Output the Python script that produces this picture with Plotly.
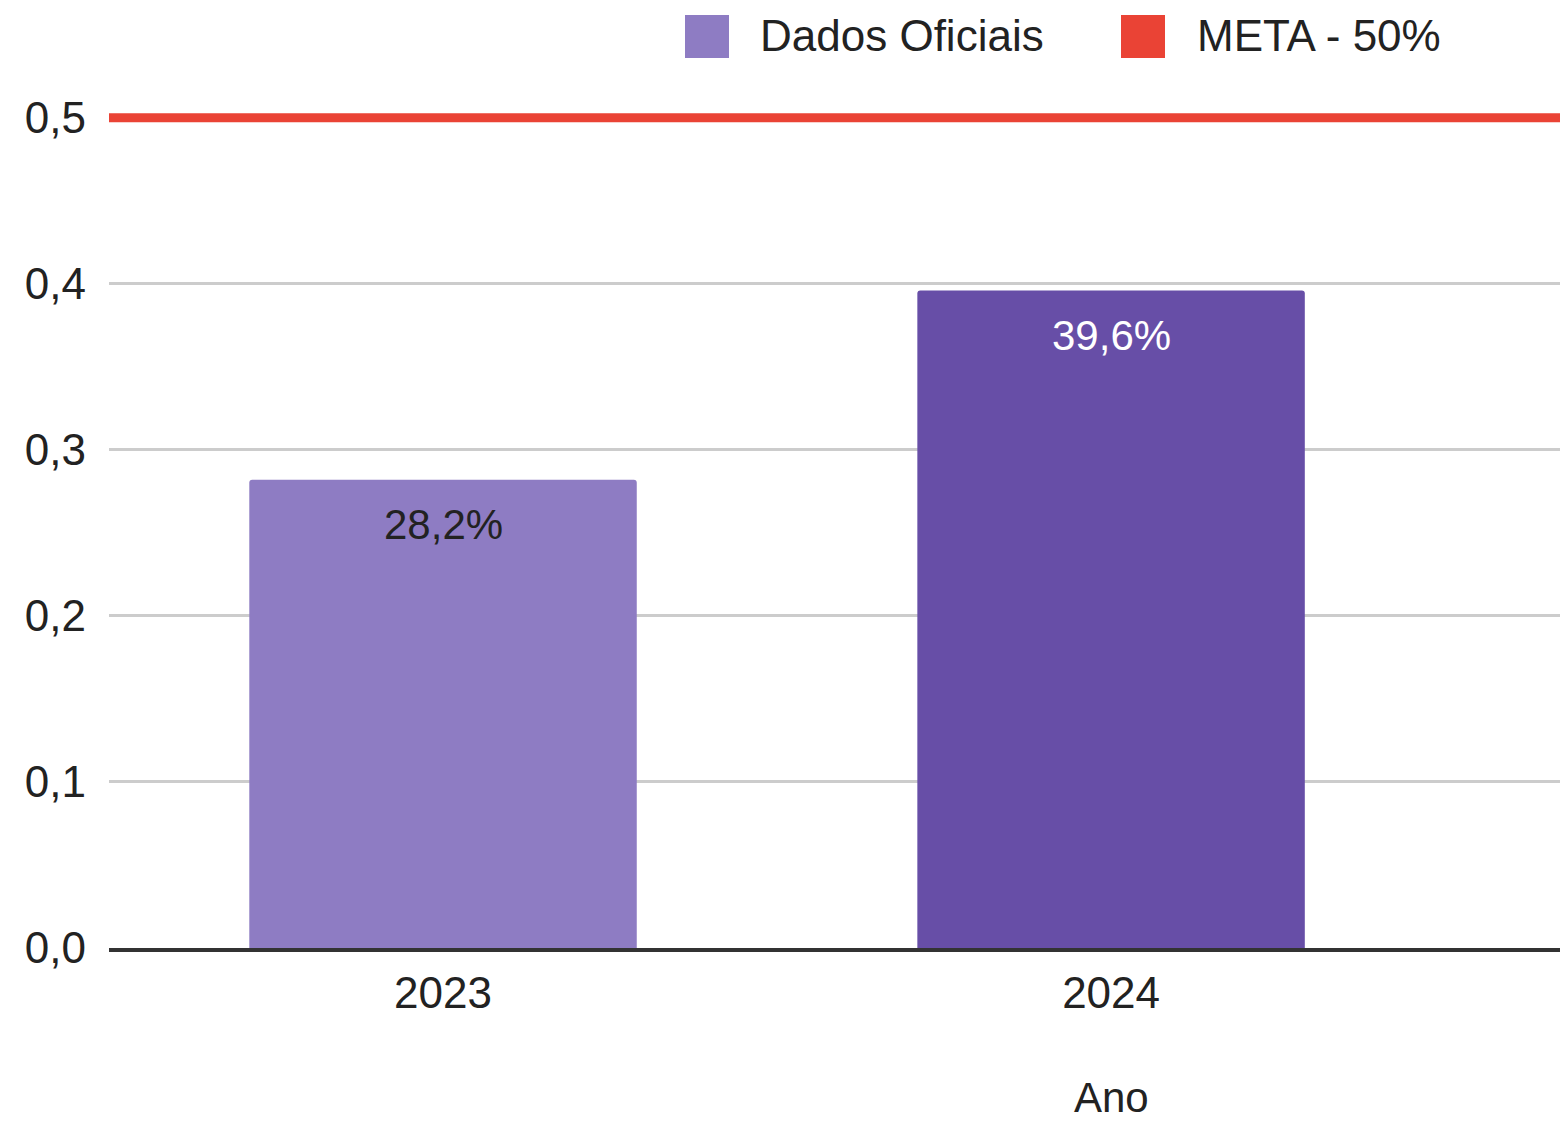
import plotly.graph_objects as go

# ---- data ----
anos = ["2023", "2024"]
dados_oficiais = [0.282, 0.396]
meta = 0.5
serie_nomes = ["Dados Oficiais", "META - 50%"]
y_ticks = [0.0, 0.1, 0.2, 0.3, 0.4, 0.5]
eixo_x_titulo = "Ano"

# ---- style ----
COR_CLARA = "#8e7cc3"
COR_ESCURA = "#674ea7"
COR_META = "#ea4335"
FONT = "Liberation Sans, Arial, sans-serif"
TXT = "#222222"
FS = 44

W, H = 1560, 1122
ML, MR, MT, MB = 109, 0, 68, 174
PW, PH = W - ML - MR, H - MT - MB


def px_x(p):
    return (p - ML) / PW


def px_y(p):
    return (H - MB - p) / PH


fig = go.Figure()

fig.add_trace(go.Bar(
    x=anos, y=dados_oficiais, name=serie_nomes[0],
    marker=dict(color=[COR_CLARA, COR_ESCURA], line=dict(width=0), cornerradius=3),
    width=0.58, showlegend=False, hoverinfo="x+y",
))

fig.add_trace(go.Scatter(
    x=[0, 1], y=[meta, meta], name=serie_nomes[1], xaxis="x2",
    mode="lines", line=dict(color=COR_META, width=9), showlegend=False,
    cliponaxis=False,
))

# value labels inside bars (category index positions)
label_colors = [TXT, "#ffffff"]
for i, (v, c) in enumerate(zip(dados_oficiais, label_colors)):
    fig.add_annotation(
        x=i, y=v, xref="x", yref="y", text=f"{v*100:.1f}%".replace(".", ","),
        showarrow=False, yshift=-45, yanchor="middle",
        font=dict(family=FONT, size=FS - 2, color=c),
    )

# x-axis title "Ano" (placed under the last category, as in the original)
fig.add_annotation(
    x=len(anos) - 1, xref="x", y=0, yref="paper", text=eixo_x_titulo,
    showarrow=False, yanchor="top", yshift=-124,
    font=dict(family=FONT, size=FS - 2, color=TXT),
)

# manual legend (large square swatches)
leg = [
    (serie_nomes[0], COR_CLARA, 685, 758),
    (serie_nomes[1], COR_META, 1121, 1195),
]
shapes = []
for nome, cor, sx, tx in leg:
    shapes.append(dict(
        type="rect", xref="paper", yref="paper",
        x0=px_x(sx), x1=px_x(sx + 44), y0=px_y(58), y1=px_y(15),
        fillcolor=cor, line=dict(width=0),
    ))
    fig.add_annotation(
        x=px_x(tx), y=px_y(36), xref="paper", yref="paper", text=nome,
        showarrow=False, xanchor="left", yanchor="middle",
        font=dict(family=FONT, size=FS, color=TXT),
    )

fig.update_layout(
    width=W, height=H,
    margin=dict(l=ML, r=MR, t=MT, b=MB, pad=0),
    paper_bgcolor="white", plot_bgcolor="white",
    separators=",.",
    font=dict(family=FONT, size=FS, color=TXT),
    showlegend=False,
    shapes=shapes,
    xaxis=dict(
        type="category", categoryarray=anos, categoryorder="array",
        range=[-0.5, 1.672],
        showgrid=False, zeroline=False, showline=True, linecolor="#333333",
        linewidth=4, ticks="", ticklabelstandoff=3,
        tickfont=dict(family=FONT, size=FS, color=TXT),
    ),
    xaxis2=dict(overlaying="x", range=[0, 1], visible=False),
    yaxis=dict(
        range=[0, 0.53], tickvals=y_ticks, tickformat=".1f",
        showgrid=True, gridcolor="#cccccc", gridwidth=3,
        zeroline=False, showline=False, ticks="", ticklabelstandoff=22,
        tickfont=dict(family=FONT, size=FS, color=TXT),
    ),
)

fig.write_html(
    "out.html",
    config={"displayModeBar": False},
    post_script="document.body.style.margin='0';",
)
